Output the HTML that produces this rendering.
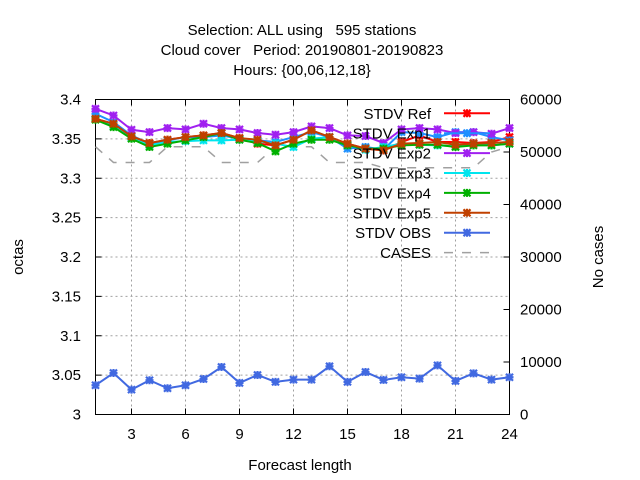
<!DOCTYPE html>
<html><head><meta charset="utf-8"><style>
body{margin:0;background:#fff;}
svg{display:block;font-family:"Liberation Sans",sans-serif;}
.pre{white-space:pre;}
</style></head><body>
<svg id="chart" width="640" height="480" viewBox="0 0 640 480">
<g font-size="15" text-anchor="middle" fill="#000">
<text class="pre" x="302" y="35">Selection: ALL using   595 stations</text>
<text class="pre" x="302" y="55">Cloud cover   Period: 20190801-20190823</text>
<text x="302" y="75">Hours: {00,06,12,18}</text>
</g>
<g id="grid"></g><g id="axes"></g><g id="series"></g><g id="legend"></g>
<text x="300" y="470" font-size="15" text-anchor="middle">Forecast length</text>
<text transform="translate(23,257) rotate(-90)" font-size="15" text-anchor="middle">octas</text>
<text transform="translate(603,257) rotate(-90)" font-size="15" text-anchor="middle">No cases</text>
</svg>
<script>
const steps=[1,2,3,4,5,6,7,8,9,10,11,12,13,14,15,16,17,18,19,20,21,22,23,24];
const xTicks=[3,6,9,12,15,18,21,24];
const yTicks=[3,3.05,3.1,3.15,3.2,3.25,3.3,3.35,3.4];
const y2Ticks=[0,10000,20000,30000,40000,50000,60000];
const stdvRef=[3.3755,3.3692,3.3532,3.3447,3.3489,3.3523,3.3544,3.3574,3.3510,3.3439,3.3418,3.3489,3.3608,3.3523,3.3439,3.3376,3.3354,3.3460,3.3544,3.3460,3.3460,3.3447,3.3460,3.3523];
const stdvExp1=[3.3819,3.3713,3.3544,3.3439,3.3481,3.3523,3.3523,3.3544,3.3502,3.3481,3.3460,3.3523,3.3586,3.3523,3.3376,3.3397,3.3363,3.3586,3.3574,3.3523,3.3586,3.3586,3.3523,3.3481];
const stdvExp2=[3.3882,3.3797,3.3616,3.3586,3.3637,3.3620,3.3692,3.3637,3.3620,3.3574,3.3553,3.3586,3.3658,3.3637,3.3544,3.3536,3.3447,3.3620,3.3637,3.3620,3.3574,3.3586,3.3565,3.3637];
const stdvExp3=[3.3755,3.3671,3.3515,3.3418,3.3460,3.3472,3.3481,3.3481,3.3489,3.3472,3.3439,3.3397,3.3502,3.3523,3.3426,3.3363,3.3397,3.3439,3.3426,3.3418,3.3405,3.3439,3.3418,3.3439];
const stdvExp4=[3.3743,3.3650,3.3502,3.3397,3.3439,3.3481,3.3523,3.3574,3.3489,3.3447,3.3342,3.3439,3.3489,3.3489,3.3418,3.3376,3.3376,3.3418,3.3426,3.3426,3.3397,3.3418,3.3418,3.3439];
const stdvExp5=[3.3755,3.3692,3.3532,3.3447,3.3489,3.3523,3.3544,3.3574,3.3510,3.3489,3.3418,3.3489,3.3608,3.3523,3.3439,3.3376,3.3354,3.3439,3.3447,3.3460,3.3426,3.3439,3.3447,3.3460];
const stdvObs=[3.0371,3.0527,3.0316,3.0435,3.0333,3.0371,3.0451,3.0603,3.0401,3.0502,3.0414,3.0443,3.0443,3.0612,3.0414,3.0540,3.0439,3.0473,3.0456,3.0624,3.0426,3.0523,3.0443,3.0473];
const cases=[51000,48000,48000,48000,51000,51000,51000,48000,48000,48000,51000,51000,51000,48000,48000,48000,47000,47000,47000,47000,47000,47000,50000,51000];
const L=95.5,R=509.5,T=99.5,B=414.5;
const xs=v=>L+(v-1)*(R-L)/23;
const ys=v=>B-(v-3)*(B-T)/0.4;
const y2s=v=>B-v*(B-T)/60000;
const NS="http://www.w3.org/2000/svg";
function mk(tag,attrs,parent){const e=document.createElementNS(NS,tag);for(const k in attrs)e.setAttribute(k,attrs[k]);parent.appendChild(e);return e;}
const grid=document.getElementById('grid'),axes=document.getElementById('axes'),ser=document.getElementById('series'),leg=document.getElementById('legend');
xTicks.forEach(t=>{
 const x=xs(t);
 if(t<24){const g=mk('line',{x1:x,x2:x,y1:T,y2:B,stroke:'#a0a0a0','stroke-dasharray':'2,3','stroke-width':1},grid);
 
 }
 const tk=mk('path',{d:`M${x},${B}v-6M${x},${T}v6`,stroke:'#000','stroke-width':1},axes);
 
 
 const lb=mk('text',{x:x,y:439,'font-size':15,'text-anchor':'middle'},axes);lb.textContent=t;
 
 
});
yTicks.forEach(t=>{
 const y=ys(t);
 if(t>3&&t<3.4){const g=mk('line',{x1:L,x2:R,y1:y,y2:y,stroke:'#a0a0a0','stroke-dasharray':'2,3','stroke-width':1},grid);
 
 }
 const tk=mk('path',{d:`M${L},${y}h6`,stroke:'#000'},axes);
 
 
 const lb=mk('text',{x:81,y:y+5,'font-size':15,'text-anchor':'end'},axes);lb.textContent=String(t);
 
 
});
y2Ticks.forEach(t=>{
 const y=y2s(t);
 const tk=mk('path',{d:`M${R},${y}h-6`,stroke:'#000'},axes);
 
 
 const lb=mk('text',{x:520,y:y+5,'font-size':15,'text-anchor':'start'},axes);lb.textContent=t;
 
 
});
const fr=mk('rect',{x:L,y:T,width:R-L,height:B-T,fill:'none',stroke:'#000','stroke-width':1},axes);


function star(x,y,c,p,s){const d=`M${x-3.5},${y-3.5}L${x+3.5},${y+3.5}M${x-3.5},${y+3.5}L${x+3.5},${y-3.5}M${x-4},${y}h8M${x},${y-4}v8`;mk('path',{d:d,stroke:c,'stroke-width':2.2},p);}
const cpath=mk('polyline',{points:cases.map((v,i)=>xs(steps[i])+','+y2s(v)).join(' '),fill:'none',stroke:'#a0a0a0','stroke-width':1.5,'stroke-dasharray':'9,9'},ser);


const S=[['STDV Ref',stdvRef,'#ff0000','stdv-ref'],['STDV Exp1',stdvExp1,'#1e90ff','stdv-exp1'],['STDV Exp2',stdvExp2,'#a020f0','stdv-exp2'],['STDV Exp3',stdvExp3,'#00e5ee','stdv-exp3'],['STDV Exp4',stdvExp4,'#00b000','stdv-exp4'],['STDV Exp5',stdvExp5,'#c04000','stdv-exp5'],['STDV OBS',stdvObs,'#4169e1','stdv-obs']];
S.forEach(([n,d,c,id])=>{
 const g=mk('g',{},ser);
 
 
 mk('polyline',{points:d.map((v,i)=>xs(steps[i])+','+ys(v)).join(' '),fill:'none',stroke:c,'stroke-width':2},g);
 d.forEach((v,i)=>star(xs(steps[i]),ys(v),c,g));
});
const LN=S.map(s=>[s[0],s[2],s[3]]).concat([['CASES','#a0a0a0','cases']]);
LN.forEach(([n,c,id],k)=>{
 const y=113.3+k*19.9;
 const g=mk('g',{},leg);
 
 
 const t=mk('text',{x:431,y:y+5.5,'font-size':15,'text-anchor':'end'},g);t.textContent=n;
 if(id==='cases'){mk('line',{x1:444,x2:490,y1:y,y2:y,stroke:c,'stroke-width':1.5,'stroke-dasharray':'9,9'},g);}
 else{mk('line',{x1:444,x2:490,y1:y,y2:y,stroke:c,'stroke-width':2},g);star(467,y,c,g);}
});
</script>
</body></html>
